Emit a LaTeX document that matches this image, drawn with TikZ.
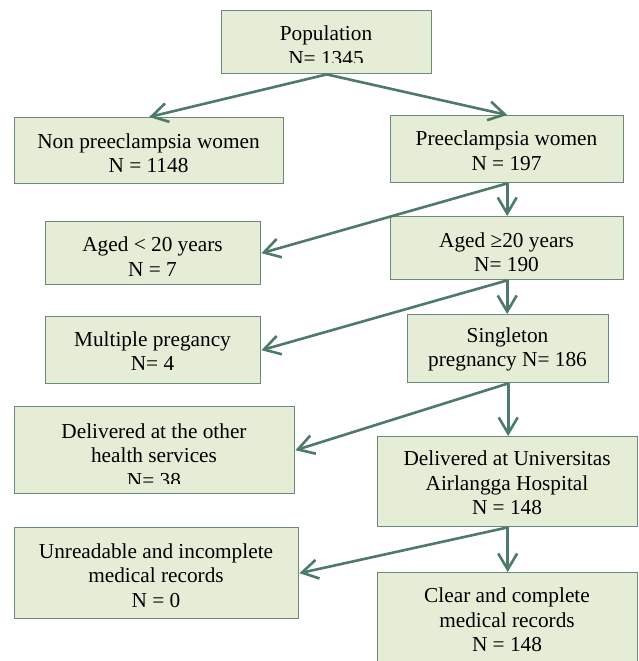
\documentclass[tikz,border=0pt]{standalone}
\usepackage{fontspec}
\setmainfont{Liberation Serif}
\usetikzlibrary{arrows.meta}
\definecolor{boxfill}{HTML}{E6EDD6}
\definecolor{boxline}{HTML}{6A8A7B}
\definecolor{arrowc}{HTML}{4D7A69}
\tikzset{
  box/.style={draw=boxline, fill=boxfill, line width=1.4pt, inner sep=0pt, anchor=north west},
  lbl/.style={align=center, inner sep=0pt, font=\fontsize{21.3}{24.5}\selectfont},
  conn/.style={draw=arrowc, line width=2.6pt, -{Straight Barb[length=16pt,width=19pt]}},
}
\begin{document}
\begin{tikzpicture}[x=1pt,y=-1pt]
\useasboundingbox[fill=white] (0,0) rectangle (638,661);
% boxes
\node[box, minimum width=210pt, minimum height=63pt] (pop) at (221,10) {};
\node[box, minimum width=269pt, minimum height=66pt] (non) at (14,117) {};
\node[box, minimum width=233pt, minimum height=67pt] (pre) at (390,115) {};
\node[box, minimum width=215pt, minimum height=63pt] (a20l) at (45,221) {};
\node[box, minimum width=233pt, minimum height=63pt] (a20g) at (390,216) {};
\node[box, minimum width=215pt, minimum height=67pt] (mult) at (45,316) {};
\node[box, minimum width=201pt, minimum height=68pt] (sing) at (407,314) {};
\node[box, minimum width=280pt, minimum height=87pt] (dother) at (14,406) {};
\node[box, minimum width=260pt, minimum height=90pt] (dua) at (377,436) {};
\node[box, minimum width=284pt, minimum height=91pt] (unr) at (14,527) {};
\node[box, minimum width=260pt, minimum height=100pt] (clear) at (377,572) {};
% texts
\node[lbl] (popT) at (326,45.5) {Population\\N= 1345};
\node[lbl] (nonT) at (148.5,153) {Non preeclampsia women\\N = 1148};
\node[lbl] (preT) at (506.5,150.5) {Preeclampsia women\\N = 197};
\node[lbl] (a20lT) at (152.5,256.5) {Aged < 20 years\\N = 7};
\node[lbl] (a20gT) at (506.5,252) {Aged ≥20 years\\N= 190};
\node[lbl] (multT) at (152.5,351) {Multiple pregancy\\N= 4};
\node[lbl] (singT) at (507.5,349.5) {Singleton\\pregnancy N= 186};
\node[lbl] (dotherT) at (154,455.5) {Delivered at the other\\health services\\N= 38};
\node[lbl] (duaT) at (507,483) {Delivered at Universitas\\Airlangga Hospital\\N = 148};
\node[lbl] (unrT) at (156,575.5) {Unreadable and incomplete\\medical records\\N = 0};
\node[lbl] (clearT) at (507,620) {Clear and complete\\medical records\\N = 148};
% clipped text bottoms (text box inset)
\fill[boxfill] (221.8,63) rectangle (430.2,72.3);
\fill[boxfill] (14.8,484) rectangle (293.2,492.3);
\fill[boxfill] (407.8,373.5) rectangle (607.2,381.3);
% connectors
\draw[conn] (pop.south) -- (non.north);
\draw[conn] (pop.south) -- (pre.north);
\draw[conn] (pre.south) -- (pre.south |- a20g.north);
\draw[conn] (pre.south) -- (a20l.east);
\draw[conn] (a20g.south) -- (a20g.south |- sing.north);
\draw[conn] (a20g.south) -- (mult.east);
\draw[conn] (sing.south) -- (sing.south |- dua.north);
\draw[conn] (sing.south) -- (dother.east);
\draw[conn] (dua.south) -- (dua.south |- clear.north);
\draw[conn] (dua.south) -- (unr.east);
\end{tikzpicture}
\end{document}
